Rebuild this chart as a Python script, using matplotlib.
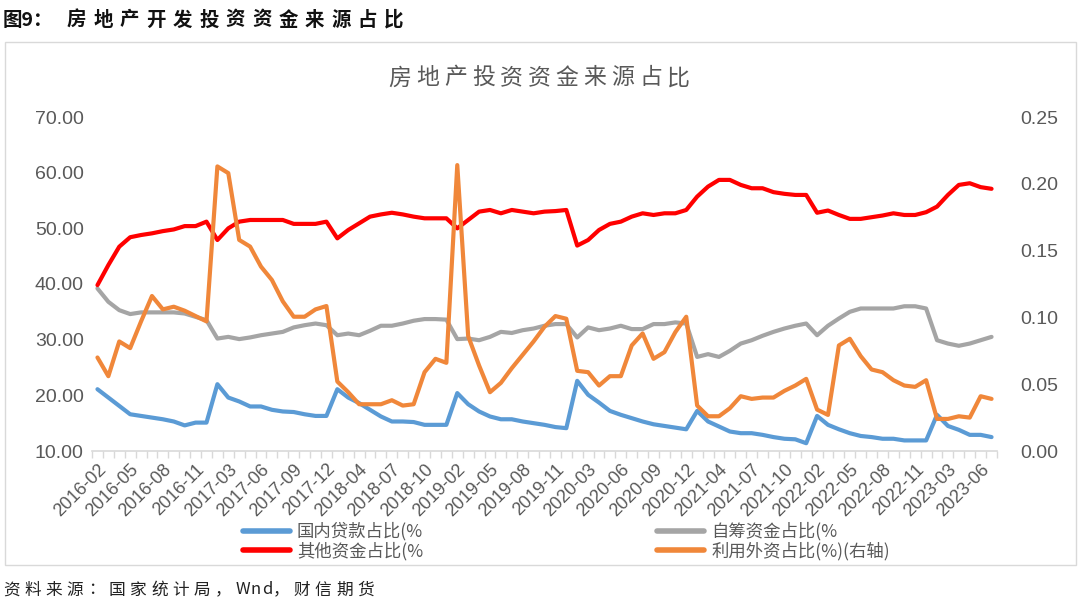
import matplotlib
matplotlib.use('Agg')
import matplotlib.pyplot as plt
import numpy as np
from matplotlib.font_manager import FontProperties
from matplotlib.textpath import TextToPath
from matplotlib.patches import Rectangle

# ---------------- data ----------------
years = [2016, 2017, 2018, 2019, 2020, 2021, 2022, 2023]
months = [2, 3, 4, 5, 6, 7, 8, 9, 10, 11, 12]
last_month_2023 = 7
categories = [f"{y}-{m:02d}" for y in years for m in months
              if not (y == 2023 and m > last_month_2023)]

domestic_loans = [  # 国内贷款占比(%)
    21.1, 19.6, 18.1, 16.6, 16.3, 16.0, 15.7, 15.3, 14.6, 15.1, 15.1,
    22.0, 19.6, 18.9, 18.0, 18.0, 17.4, 17.1, 17.0, 16.6, 16.3, 16.3,
    21.1, 19.6, 18.6, 17.4, 16.2, 15.3, 15.3, 15.2, 14.7, 14.7, 14.7,
    20.4, 18.4, 17.1, 16.2, 15.7, 15.7, 15.3, 15.0, 14.7, 14.3, 14.1,
    22.6, 20.1, 18.7, 17.2, 16.5, 15.9, 15.3, 14.8, 14.5, 14.2, 13.9,
    17.2, 15.3, 14.4, 13.5, 13.2, 13.2, 12.9, 12.5, 12.2, 12.1, 11.4,
    16.3, 14.7, 13.9, 13.2, 12.7, 12.5, 12.2, 12.2, 11.9, 11.9, 11.9,
    16.5, 14.5, 13.8, 12.9, 12.9, 12.5]

self_raised = [  # 自筹资金占比(%)
    39.2, 36.8, 35.3, 34.6, 34.9, 34.9, 34.9, 34.9, 34.7, 34.1, 33.5,
    30.2, 30.5, 30.1, 30.4, 30.8, 31.1, 31.4, 32.2, 32.6, 32.9, 32.6,
    30.8, 31.1, 30.8, 31.6, 32.5, 32.5, 32.9, 33.4, 33.7, 33.7, 33.6,
    30.1, 30.2, 29.9, 30.5, 31.4, 31.2, 31.7, 32.0, 32.5, 32.8, 32.8,
    30.4, 32.2, 31.7, 32.0, 32.5, 31.9, 31.9, 32.8, 32.8, 33.1, 32.9,
    26.9, 27.4, 26.9, 28.0, 29.3, 29.9, 30.7, 31.4, 32.0, 32.5, 32.9,
    30.8, 32.5, 33.8, 35.0, 35.6, 35.6, 35.6, 35.6, 36.0, 36.0, 35.6,
    29.9, 29.3, 28.9, 29.3, 29.9, 30.5]

other_funds = [  # 其他资金占比(%)
    39.8, 43.4, 46.7, 48.4, 48.8, 49.1, 49.5, 49.8, 50.4, 50.4, 51.2,
    47.9, 50.0, 51.2, 51.5, 51.5, 51.5, 51.5, 50.8, 50.8, 50.8, 51.2,
    48.2, 49.7, 50.9, 52.1, 52.5, 52.8, 52.5, 52.1, 51.8, 51.8, 51.8,
    50.0, 51.5, 53.0, 53.3, 52.7, 53.3, 53.0, 52.7, 53.0, 53.1, 53.3,
    46.9, 47.9, 49.7, 50.8, 51.2, 52.1, 52.7, 52.4, 52.7, 52.7, 53.3,
    55.7, 57.5, 58.7, 58.7, 57.8, 57.2, 57.2, 56.5, 56.2, 56.0, 56.0,
    52.8, 53.2, 52.4, 51.7, 51.7, 52.0, 52.3, 52.7, 52.4, 52.4, 52.9,
    53.9, 56.0, 57.8, 58.1, 57.4, 57.1]

foreign_capital = [  # 利用外资占比(%)(右轴)
    0.070, 0.056, 0.082, 0.077, 0.097, 0.116, 0.106, 0.108, 0.105, 0.101, 0.097,
    0.213, 0.208, 0.158, 0.153, 0.138, 0.128, 0.112, 0.1005, 0.1005, 0.106, 0.1085,
    0.052, 0.044, 0.035, 0.035, 0.035, 0.038, 0.034, 0.035, 0.059, 0.069, 0.066,
    0.214, 0.086, 0.064, 0.044, 0.051, 0.062, 0.072, 0.082, 0.093, 0.101, 0.099,
    0.060, 0.059, 0.049, 0.056, 0.056, 0.079, 0.088, 0.069, 0.074, 0.089, 0.1005,
    0.034, 0.026, 0.026, 0.032, 0.041, 0.039, 0.040, 0.040, 0.045, 0.049, 0.054,
    0.031, 0.027, 0.079, 0.084, 0.071, 0.061, 0.059, 0.053, 0.049, 0.048, 0.053,
    0.024, 0.024, 0.026, 0.025, 0.041, 0.039]

left_ticks = [10, 20, 30, 40, 50, 60, 70]
right_ticks = [0.00, 0.05, 0.10, 0.15, 0.20, 0.25]

series_labels = ["国内贷款占比(%", "自筹资金占比(%", "其他资金占比(%", "利用外资占比(%)(右轴)"]
header_prefix = "图9："
header_body = "房地产开发投资资金来源占比"
chart_title = "房地产投资资金来源占比"
source = "资料来源：国家统计局，Wnd，财信期货"

# ---------------- style ----------------
W, H, DPI = 1080, 609, 100
CJK = ['Noto Sans CJK SC', 'DejaVu Sans']
NUM = ['Liberation Sans', 'DejaVu Sans']
GRAY_TXT = '#595959'
AXIS_C = '#d9d9d9'
C_BLUE, C_GRAY, C_RED, C_ORANGE = '#5B9BD5', '#A5A5A5', '#FF0000', '#F0873A'

fig = plt.figure(figsize=(W / DPI, H / DPI), dpi=DPI)
fig.patch.set_facecolor('white')

ttp = TextToPath()


def spaced_text(x_px, y_px, s, size, extra_px, color, weight='normal'):
    """Draw a string char by char with extra spacing after CJK glyphs."""
    fp = FontProperties(family=CJK, size=size, weight=weight)
    x = x_px
    for ch in s:
        fig.text(x / W, 1 - y_px / H, ch, fontproperties=fp, color=color,
                 ha='left', va='center')
        w, _, _ = ttp.get_text_width_height_descent(ch, fp, ismath=False)
        x += w * DPI / 72 + (extra_px if ord(ch) > 255 else 0.5)
    return x


# frame around chart area
fig.add_artist(Rectangle((5 / W, 1 - 565 / H), (1076 - 5) / W, (565 - 42) / H,
                         transform=fig.transFigure, fill=False,
                         edgecolor=AXIS_C, lw=1.0))

# header and source
fp_head = FontProperties(family=CJK, size=14, weight='bold')
fig.text(3 / W, 1 - 20 / H, header_prefix, fontproperties=fp_head,
         color='#111111', ha='left', va='center')
spaced_text(67, 20, header_body, 14, 7.0, '#111111', weight='bold')
spaced_text(3, 590, source, 12, 4.5, '#222222')

# chart title
spaced_text(388, 78, chart_title, 16.5, 5, GRAY_TXT)

# ---------------- axes ----------------
ax = fig.add_axes([92 / W, 1 - 451 / H, (997 - 92) / W, (451 - 117) / H])
ax2 = ax.twinx()
x = np.arange(len(categories))

kw = dict(lw=3.0, solid_joinstyle='round', solid_capstyle='round')
l_blue, = ax.plot(x, domestic_loans, color=C_BLUE, **kw)
l_gray, = ax.plot(x, self_raised, color=C_GRAY, **kw)
l_red, = ax.plot(x, other_funds, color=C_RED, **kw)
l_orange, = ax2.plot(x, foreign_capital, color=C_ORANGE, **kw)

ax.set_xlim(-0.5, len(categories) - 0.5)
ax.set_ylim(left_ticks[0], left_ticks[-1])
ax2.set_ylim(right_ticks[0], right_ticks[-1])

ax.set_yticks(left_ticks)
ax.set_yticklabels([f"{v:.2f}" for v in left_ticks])
ax2.set_yticks(right_ticks)
ax2.set_yticklabels([f"{v:.2f}" for v in right_ticks])

for a in (ax, ax2):
    for s in a.spines.values():
        s.set_visible(False)
ax.spines['bottom'].set_visible(True)
ax.spines['bottom'].set_color(AXIS_C)
ax.spines['bottom'].set_linewidth(1.2)

ax.tick_params(axis='y', length=0, pad=6, labelsize=14, labelcolor=GRAY_TXT)
ax2.tick_params(axis='y', length=0, pad=17, labelsize=14, labelcolor=GRAY_TXT)
for lab in ax.get_yticklabels() + ax2.get_yticklabels():
    lab.set_fontfamily(NUM)

ax.set_xticks(x[::3])
ax.set_xticklabels(categories[::3], rotation=45, ha='right', va='top',
                   rotation_mode='anchor', fontsize=13, color=GRAY_TXT,
                   fontfamily=NUM)
ax.set_xticks(np.arange(-0.5, len(categories), 1), minor=True)
ax.tick_params(axis='x', which='major', length=0, pad=7)
ax.tick_params(axis='x', which='minor', length=5, width=1, color=AXIS_C)

# ---------------- legend ----------------
leg = fig.legend([l_blue, l_red, l_gray, l_orange],
                 [series_labels[0], series_labels[2], series_labels[1], series_labels[3]],
                 loc='upper left', bbox_to_anchor=(243 / W, 1 - 522 / H),
                 bbox_transform=fig.transFigure, ncol=2, frameon=False,
                 prop=FontProperties(family=CJK, size=12.5),
                 labelcolor=GRAY_TXT, handlelength=2.7, handletextpad=0.4,
                 columnspacing=13.5, labelspacing=0.05, borderpad=0,
                 borderaxespad=0)
for ln in leg.get_lines():
    ln.set_linewidth(4.0)
    ln.set_solid_capstyle('round')

fig.savefig('out.png', dpi=DPI, facecolor='white')
